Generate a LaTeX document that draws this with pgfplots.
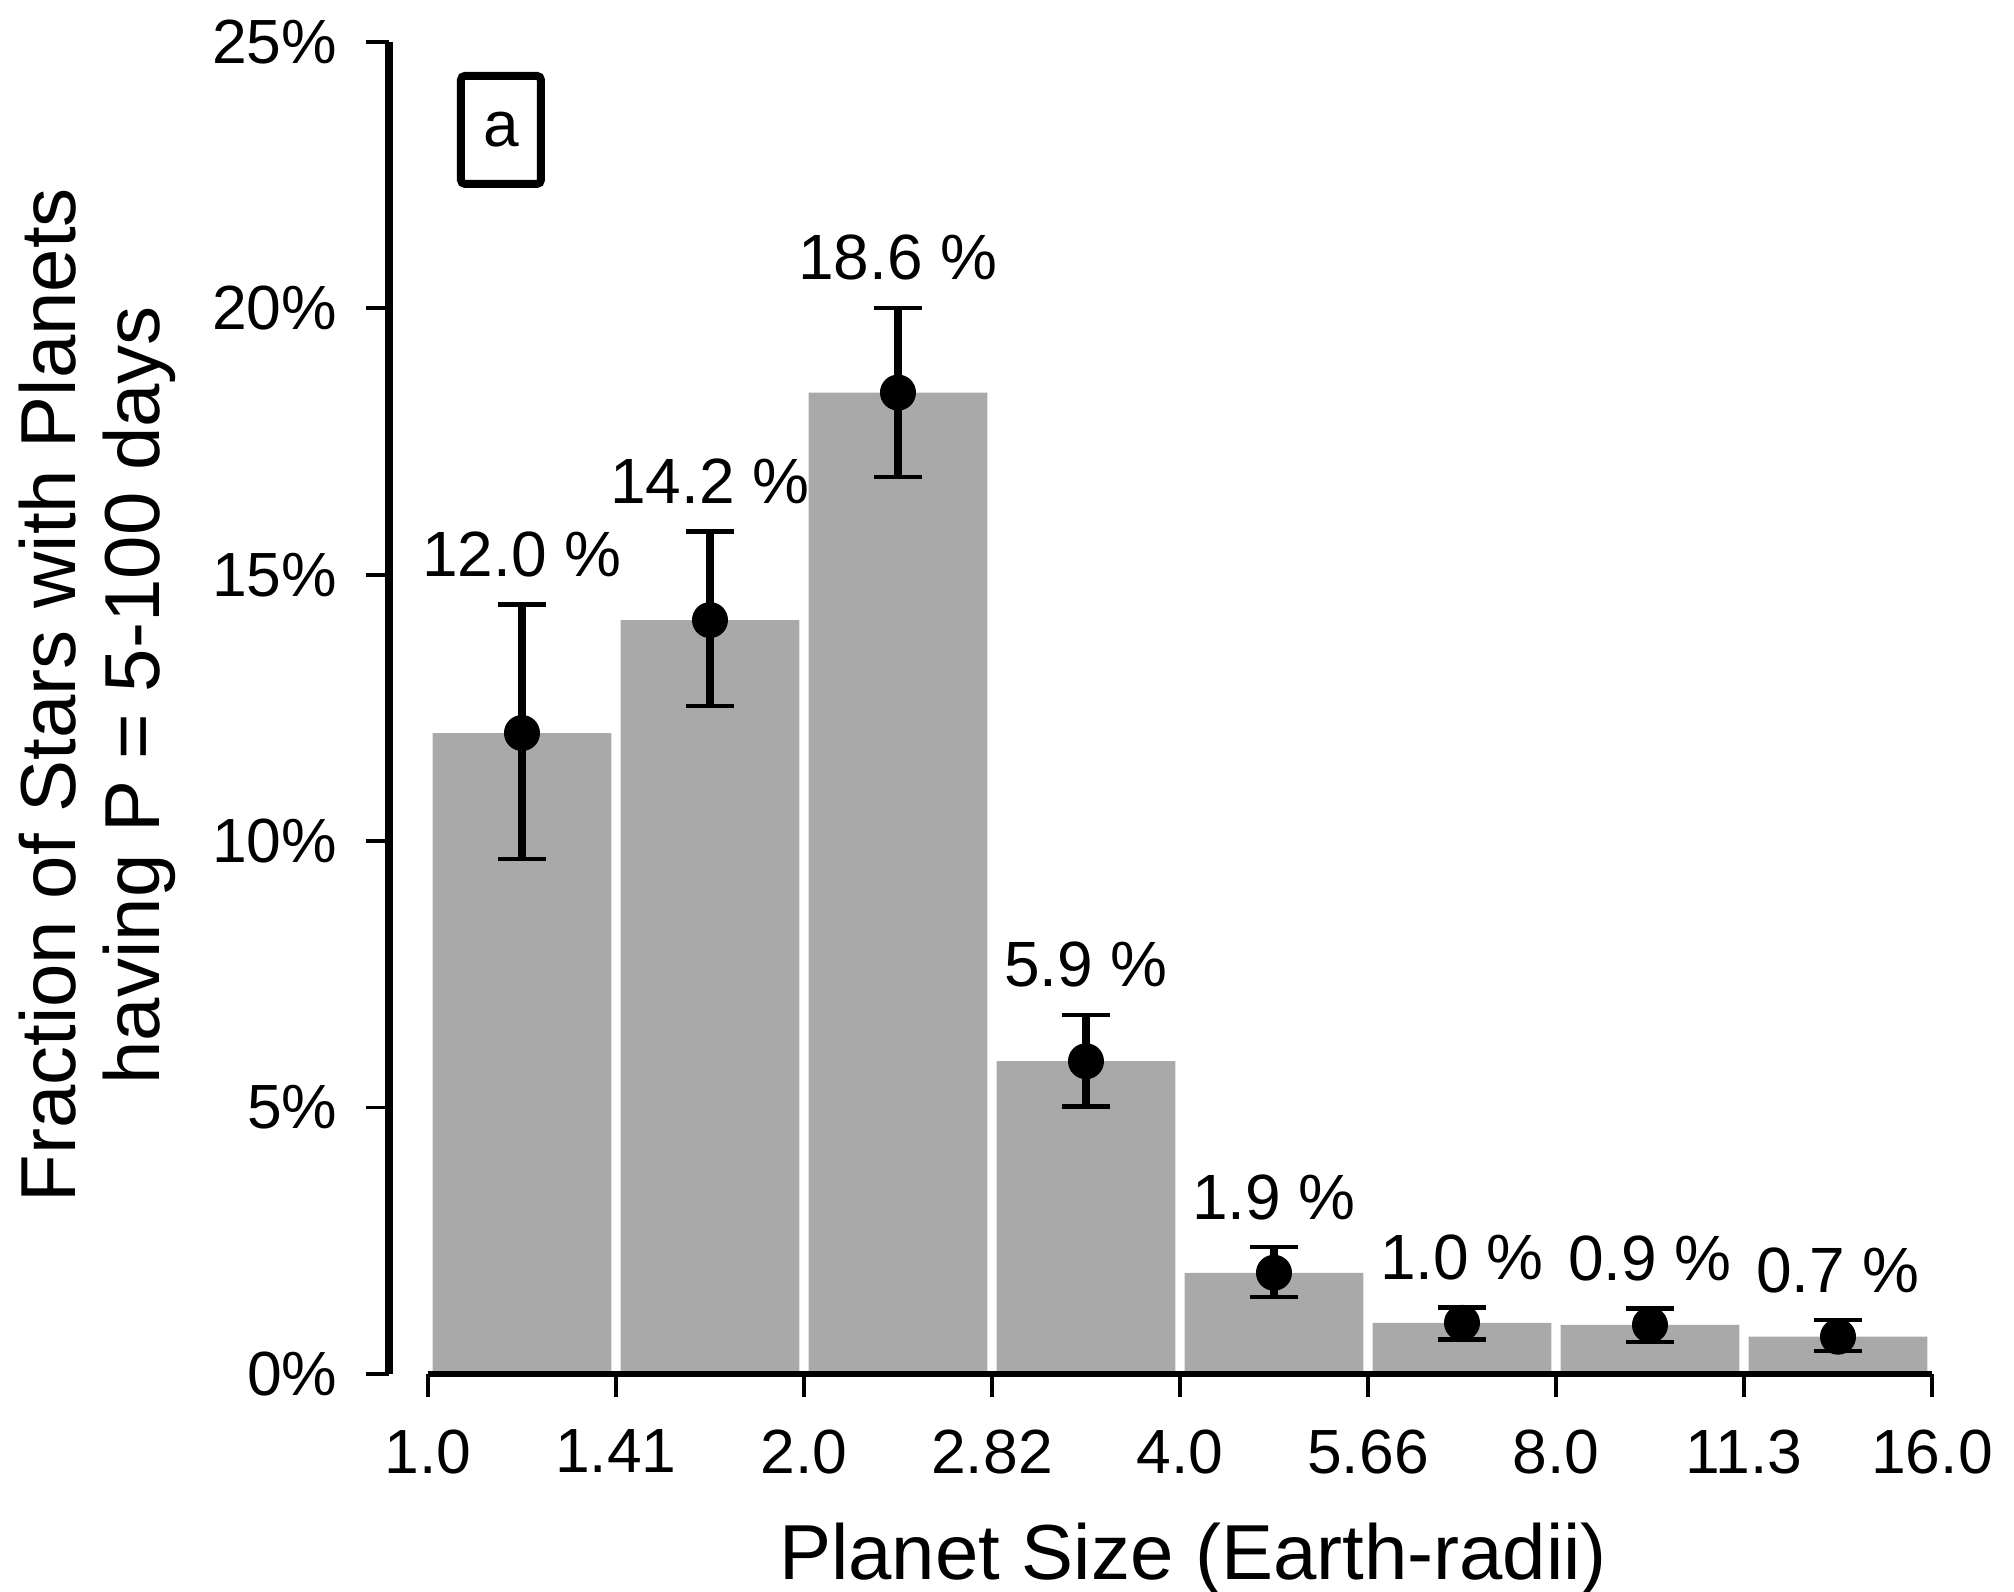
\documentclass[border=0pt]{standalone}
\usepackage{fontspec}
\setmainfont{Liberation Sans}
\usepackage{pgfplots}
\pgfplotsset{compat=1.18}
\definecolor{barcol}{HTML}{A9A9A9}
\begin{document}
\begin{tikzpicture}
\begin{axis}[
  scale only axis, width=385.75pt, height=333pt,
  xmin=-0.2074, xmax=8, ymin=0, ymax=25,
  clip=false,
  axis line style={draw=none},
  xtick={0,1,2,3,4,5,6,7,8},
  xticklabels={1.0,1.41,2.0,2.82,4.0,5.66,8.0,11.3,16.0},
  ytick={0,5,10,15,20,25},
  yticklabels={0\%,5\%,10\%,15\%,20\%,25\%},
  xtick pos=bottom, ytick pos=left,
  tick align=outside, major tick length=5.75pt,
  tick style={black, line width=0.95pt},
  /pgf/number format/assume math mode=true,
  ticklabel style={font=\fontsize{15.6}{18}\selectfont},
  yticklabel style={anchor=east, inner sep=0pt, xshift=-7pt},
  xticklabel style={anchor=north, inner sep=0pt, yshift=-8pt},
]
\coordinate (SW) at (rel axis cs:0,0);
\coordinate (NE) at (rel axis cs:1,1);
\addplot[ybar, bar width=0.95, bar shift=0pt, fill=barcol, draw=none] coordinates {
  (0.5,12.03) (1.5,14.15) (2.5,18.42) (3.5,5.87) (4.5,1.90) (5.5,0.96) (6.5,0.92) (7.5,0.70)
};
\addplot[only marks, mark=*, mark size=4.3pt, black,
  error bars/.cd, y dir=both, y explicit,
  error bar style={line width=1.9pt},
  error mark options={line width=1.1pt, mark size=5.9pt, rotate=90}]
  table[x=x, y=y, y error plus=ep, y error minus=em] {
  x   y     ep    em
  0.5 12.03 2.41  2.36
  1.5 14.15 1.66  1.61
  2.5 18.42 1.59  1.59
  3.5 5.87  0.87  0.85
  4.5 1.90  0.48  0.46
  5.5 0.96  0.29  0.31
  6.5 0.92  0.31  0.32
  7.5 0.70  0.31  0.27
};
\draw[line width=1.9pt] (axis cs:-0.2074,0) -- (axis cs:-0.2074,25);
\draw[line width=1.7pt] (axis cs:0,0) -- (axis cs:8,0);
\begin{scope}[every node/.style={font=\fontsize{16}{19}\selectfont, anchor=base, inner sep=0pt, yshift=7pt}]
\node at (axis cs:0.5,14.44) {12.0 \%};
\node at (axis cs:1.5,15.81) {14.2 \%};
\node at (axis cs:2.5,20.01) {18.6 \%};
\node at (axis cs:3.5,6.74) {5.9 \%};
\node at (axis cs:4.5,2.38) {1.9 \%};
\node at (axis cs:5.5,1.25) {1.0 \%};
\node at (axis cs:6.5,1.23) {0.9 \%};
\node at (axis cs:7.5,1.01) {0.7 \%};
\end{scope}
\node[draw, line width=2pt, rounded corners=1pt, minimum width=20pt, minimum height=27pt, inner sep=0pt,
  font=\fontsize{16}{19}\selectfont] at (axis cs:0.388,23.35) {a};
\node[anchor=base, inner sep=0pt, font=\fontsize{19.5}{22}\selectfont] at ([yshift=-51.3pt]axis cs:4.07,0) {Planet Size (Earth-radii)};
\node[rotate=90, anchor=base, inner sep=0pt, font=\fontsize{19.5}{22}\selectfont] at ([xshift=-78.25pt]axis cs:-0.2074,12.74) {Fraction of Stars with Planets};
\node[rotate=90, anchor=base, inner sep=0pt, font=\fontsize{19.5}{22}\selectfont] at ([xshift=-57.25pt]axis cs:-0.2074,12.74) {having P = 5-100 days};
\end{axis}
\pgfresetboundingbox
\path ([shift={(-97.25pt,-54.5pt)}]SW) rectangle ([shift={(20.5pt,10.5pt)}]NE);
\end{tikzpicture}
\end{document}
